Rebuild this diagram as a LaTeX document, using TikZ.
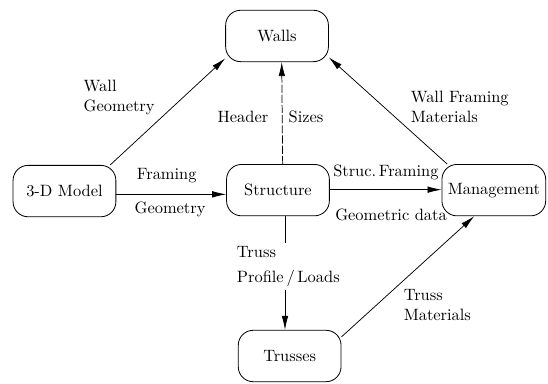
\documentclass[tikz,border=0pt]{standalone}
\usepackage{tikz}
\usetikzlibrary{arrows.meta,calc,positioning}

\begin{document}
\begin{tikzpicture}[
      font=\normalsize,
      >=Latex,
      modbox/.style={draw,rounded corners=0.32cm,line width=0.5pt,minimum width=2.2cm,minimum height=1.1cm,align=center},
      arr/.style={->,line width=0.45pt,arrows={-Latex[length=3mm,width=1.4mm]}},
      lbl/.style={align=left,inner sep=1pt}
    ]
      \useasboundingbox (0,0) rectangle (11.73,8.20);
      \node[modbox] (walls) at (5.93,7.43) {Walls};
      \node[modbox] (model) at (1.38,4.11) {3-D Model};
      \node[modbox] (struct) at (5.95,4.13) {Structure};
      \node[modbox,minimum width=2.22cm] (mgmt) at (10.57,4.13) {Management};
      \node[modbox] (truss) at (6.20,0.58) {Trusses};
      \draw[arr] ([xshift=-0.13cm]model.north east) -- ([yshift=0.08cm]walls.south west);
      \node[lbl,anchor=west] (wallgeo) at (1.75,6.12) {Wall\\Geometry};
      \draw[arr] (model.east |- 0,4.04) -- (struct.west |- 0,4.04);
      \node (frame1) at (3.57,4.45) {Framing};
      \node (frame2) at (3.64,3.71) {Geometry};
      \draw[arr,dash pattern=on 5pt off 1.2pt] ([xshift=0.1cm]struct.north) -- ([xshift=0.1cm]walls.south);
      \node (header) at (5.20,5.69) {Header};
      \node (sizes) at (6.55,5.69) {Sizes};
      \draw[arr] ([xshift=0.12cm]mgmt.north west) -- ([yshift=0.1cm]walls.south east);
      \node[lbl,anchor=west] (wallmat) at (8.75,5.91) {Wall Framing\\Materials};
      \draw[arr] (struct.east |- 0,4.14) -- (mgmt.west |- 0,4.14);
      \node (strucfr) at (8.26,4.52) {Struc.\,Framing};
      \node (geodata) at (8.37,3.60) {Geometric data};
      \draw[arr] ([xshift=0.15cm]struct.south) -- ([xshift=0.15cm]struct.south |- truss.north);
      \node[lbl,anchor=west,fill=white,inner ysep=2pt] (profile) at (5.03,2.50) {Truss\\[3pt]Profile\,/\,Loads};
      \draw[arr] ([yshift=-0.15cm]truss.north east) -- ([xshift=-0.42cm]mgmt.south);
      \node[lbl,anchor=west] (trussmat) at (8.60,1.67) {Truss\\Materials};
    \end{tikzpicture}
\end{document}
